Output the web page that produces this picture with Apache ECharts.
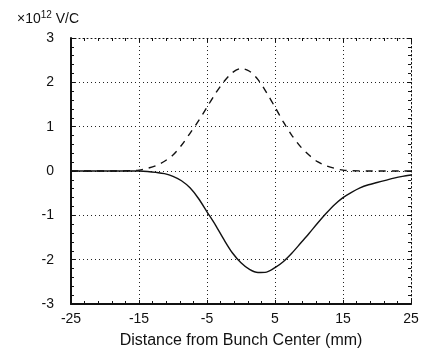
<!DOCTYPE html>
<html>
<head>
<meta charset="utf-8">
<script src="https://cdn.jsdelivr.net/npm/echarts@6/dist/echarts.min.js"></script>
<style>
  html, body { margin: 0; padding: 0; background: #fff; }
  #chart { width: 421px; height: 351px; }
</style>
</head>
<body>
<div id="chart"></div>
<script>
// distance from bunch center (mm), step 1.25
const positions = [
  -25, -23.75, -22.5, -21.25, -20, -18.75, -17.5, -16.25, -15, -13.75,
  -12.5, -11.25, -10, -8.75, -7.5, -6.25, -5, -3.75, -2.5, -1.25,
  0, 1.25, 2.5, 3.75, 5, 6.25, 7.5, 8.75, 10, 11.25,
  12.5, 13.75, 15, 16.25, 17.5, 18.75, 20, 21.25, 22.5, 23.75, 25
];
// bunch profile (dashed), x10^12 V/C scale
const bunchProfile = [
  0, 0, 0, 0, 0, 0, 0.003, 0.008, 0.02, 0.06,
  0.12, 0.22, 0.36, 0.58, 0.85, 1.13, 1.44, 1.75, 2.02, 2.22,
  2.31, 2.25, 2.06, 1.77, 1.44, 1.1, 0.8, 0.55, 0.36, 0.21,
  0.12, 0.06, 0.02, 0.008, 0.003, 0, 0, 0, 0, 0, 0
];
// wake field (solid)
const wakeField = [
  0, 0, 0, 0, 0, 0, 0, 0, 0, -0.01,
  -0.03, -0.06, -0.12, -0.22, -0.38, -0.62, -0.92, -1.22, -1.55, -1.85,
  -2.07, -2.22, -2.29, -2.28, -2.18, -2.04, -1.85, -1.63, -1.41, -1.18,
  -0.96, -0.76, -0.6, -0.48, -0.38, -0.31, -0.26, -0.21, -0.16, -0.12, -0.09
];

const xTicks = { min: -25, max: 25, interval: 10 };
const yTicks = { min: -3, max: 3, interval: 1 };

const font = 'Liberation Sans, Arial, sans-serif';
const ink = '#111';
const gridDots = { color: '#222', width: 1, type: [1, 3] };

const chart = echarts.init(document.getElementById('chart'));

const pair = (ys) => positions.map((x, i) => [x, ys[i]]);

const frameAxis = (solid) => ({
  axisLine: {
    show: true, onZero: false,
    lineStyle: solid ? { color: ink, width: 2 } : { color: ink, width: 1, type: [1, 3] }
  },
  axisTick: { show: true, inside: true, length: 4, lineStyle: { color: ink } },
  minorTick: { show: true, splitNumber: 5, length: 3, lineStyle: { color: ink } },
});

chart.setOption({
  animation: false,
  title: {
    left: 12,
    top: 5,
    text: '×10{sup|12} V/C',
    textStyle: {
      color: ink, fontFamily: font, fontSize: 14, fontWeight: 'normal',
      rich: { sup: { fontSize: 10, verticalAlign: 'top', padding: [0, 0, 8, 0], color: ink, fontFamily: font } }
    }
  },
  grid: { left: 71, right: 10, top: 38, bottom: 47, outerBoundsMode: 'none' },
  xAxis: [
    {
      type: 'value', ...xTicks,
      ...frameAxis(true),
      axisLabel: { color: ink, fontFamily: font, fontSize: 14, margin: 8 },
      splitLine: { show: true, lineStyle: gridDots },
      name: 'Distance from Bunch Center (mm)',
      nameLocation: 'middle',
      nameGap: 29,
      nameTextStyle: { color: ink, fontFamily: font, fontSize: 16 },
    },
    {
      type: 'value', position: 'top', ...xTicks,
      ...frameAxis(false),
      axisLabel: { show: false },
      splitLine: { show: false },
    }
  ],
  yAxis: [
    {
      type: 'value', ...yTicks,
      ...frameAxis(true),
      axisLabel: { color: ink, fontFamily: font, fontSize: 14, margin: 17 },
      splitLine: { show: true, lineStyle: gridDots },
    },
    {
      type: 'value', position: 'right', ...yTicks,
      ...frameAxis(false),
      axisLabel: { show: false },
      splitLine: { show: false },
    }
  ],
  series: [
    {
      type: 'line',
      data: pair(bunchProfile),
      smooth: 0.3,
      symbol: 'none',
      lineStyle: { color: ink, width: 1.4, type: [7, 6] },
      z: 3,
    },
    {
      type: 'line',
      data: pair(wakeField),
      smooth: 0.3,
      symbol: 'none',
      lineStyle: { color: ink, width: 1.4 },
      z: 4,
    }
  ]
});
</script>
</body>
</html>
